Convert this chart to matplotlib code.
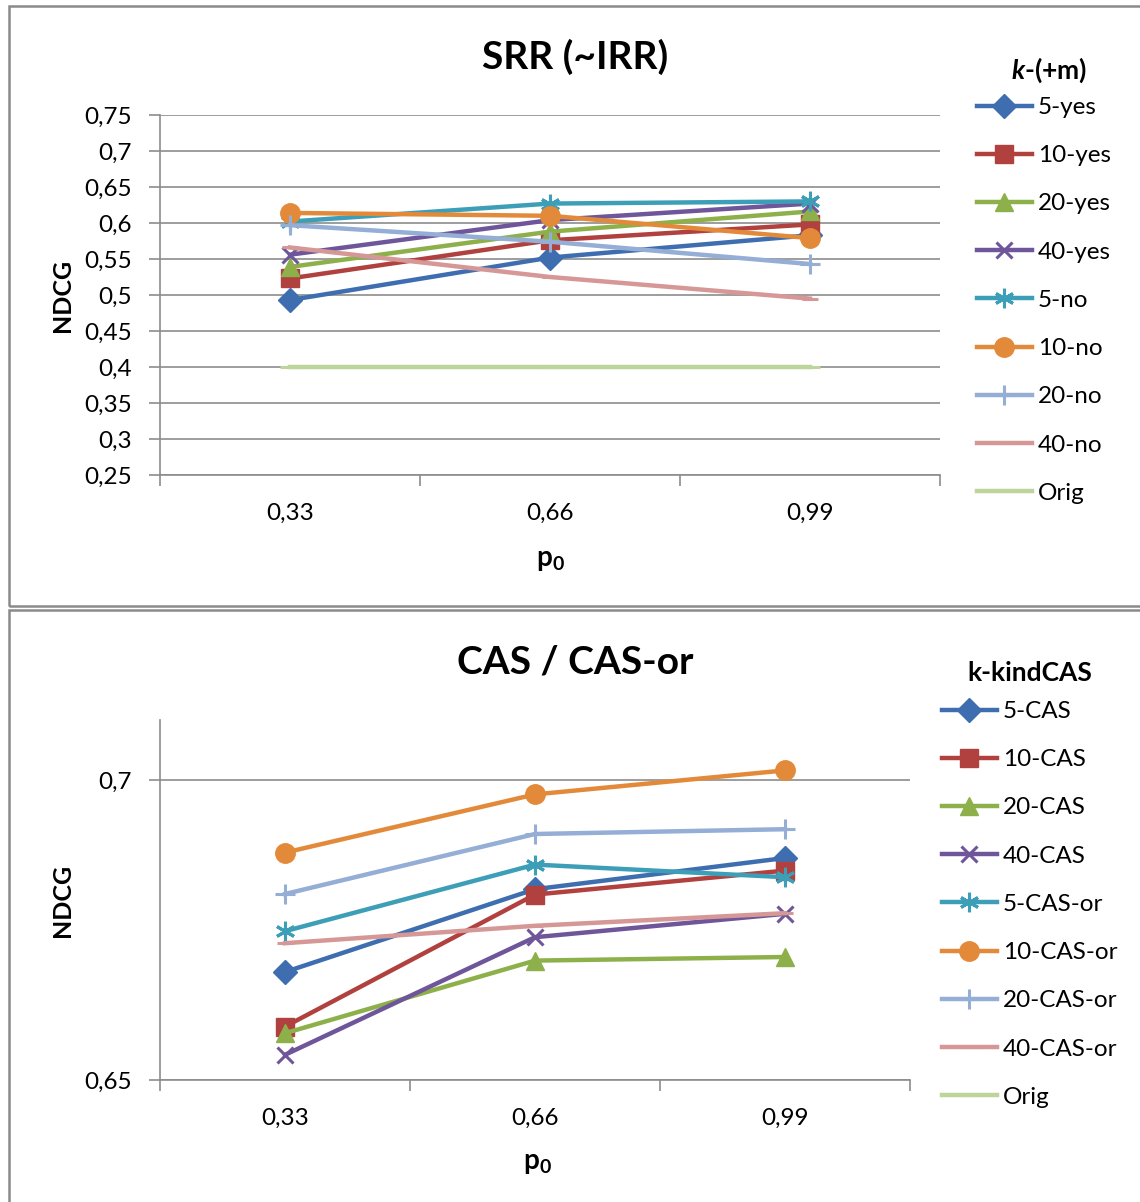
"""
NDCG vs p0 for SRR (~IRR) and CAS / CAS-or runs
"""

import matplotlib
matplotlib.use("Agg")
import matplotlib.pyplot as plt
from matplotlib.patches import Rectangle
from matplotlib.ticker import FixedLocator, FuncFormatter

plt.rcParams["font.family"] = ["Lato", "DejaVu Sans"]
plt.rcParams["mathtext.fontset"] = "custom"
plt.rcParams["mathtext.rm"] = "Lato"
plt.rcParams["mathtext.bf"] = "Lato:bold"
plt.rcParams["mathtext.bfit"] = "Lato:bold:italic"

# =====================================================
# DATA
# =====================================================
p0_labels = ["0,33", "0,66", "0,99"]

srr_names = ["5-yes", "10-yes", "20-yes", "40-yes", "5-no", "10-no", "20-no", "40-no", "Orig"]
srr_5_yes  = [0.493, 0.552, 0.583]
srr_10_yes = [0.523, 0.576, 0.598]
srr_20_yes = [0.539, 0.588, 0.616]
srr_40_yes = [0.556, 0.604, 0.627]
srr_5_no   = [0.602, 0.627, 0.630]
srr_10_no  = [0.614, 0.610, 0.579]
srr_20_no  = [0.597, 0.574, 0.543]
srr_40_no  = [0.566, 0.525, 0.495]
srr_orig   = [0.400, 0.400, 0.400]

cas_names = ["5-CAS", "10-CAS", "20-CAS", "40-CAS", "5-CAS-or", "10-CAS-or",
             "20-CAS-or", "40-CAS-or", "Orig"]
cas_5      = [0.6680, 0.6818, 0.6870]
cas_10     = [0.6589, 0.6809, 0.6849]
cas_20     = [0.6578, 0.6699, 0.6705]
cas_40     = [0.6542, 0.6738, 0.6777]
cas_5_or   = [0.6748, 0.6859, 0.6838]
cas_10_or  = [0.6879, 0.6976, 0.7016]
cas_20_or  = [0.6810, 0.6910, 0.6918]
cas_40_or  = [0.6728, 0.6757, 0.6778]
cas_orig   = [0.400, 0.400, 0.400]

# =====================================================
# STYLE
# =====================================================
COLORS = ["#3E6EB0", "#B0413E", "#8DB04B", "#6F559A", "#3D9EB8",
          "#E38A3A", "#94AED6", "#D69896", "#BDD59A"]
MARKERS = ["D", "s", "^", "x", (6, 2, 0), "o", "+", "_", "_"]
MSIZES = [12, 13, 13, 12, 14, 14, 15, 12, 15]
GRID = "#8C8C8C"
FS = 17.5

W, H = 1140, 1202
fig = plt.figure(figsize=(W / 100, H / 100), dpi=100)


def fx(px):
    return px / W


def fy(py):
    return 1 - py / H


# panel frames
for top, bot in [(6, 606), (610, 1215)]:
    fig.patches.append(Rectangle((fx(9), fy(bot)), fx(1150) - fx(9), fy(top) - fy(bot),
                                 transform=fig.transFigure, fill=False,
                                 edgecolor="#8A8A8A", linewidth=1.8))


def fmt(v, _):
    return f"{v:g}".replace(".", ",")


def draw_panel(rect, series, names, ylim, yticks, title, title_xy,
               ylab_y, xlab_xy, leg_xy, leg_title, leg_title_xy):
    ax = fig.add_axes(rect)
    x = range(len(p0_labels))
    for vals, name, c, m, ms in zip(series, names, COLORS, MARKERS, MSIZES):
        mew = 2.2 if m in ("x", "+", "_") or isinstance(m, tuple) else 1.0
        ax.plot(x, vals, color=c, linewidth=3.2, marker=m, markersize=ms,
                markeredgewidth=mew, markerfacecolor=c, markeredgecolor=c,
                label=name, clip_on=True)

    ax.set_xlim(-0.5, 2.5)
    ax.set_ylim(*ylim)
    ax.yaxis.set_major_locator(FixedLocator(yticks))
    ax.yaxis.set_major_formatter(FuncFormatter(fmt))
    ax.xaxis.set_major_locator(FixedLocator([-0.5, 0.5, 1.5, 2.5]))
    ax.xaxis.set_major_formatter(FuncFormatter(lambda v, _: ""))
    ax.xaxis.set_minor_locator(FixedLocator(list(x)))
    ax.set_xticklabels(p0_labels, minor=True)
    ax.tick_params(axis="x", which="minor", length=0, pad=20, labelsize=FS)
    ax.tick_params(axis="x", which="major", length=8, color=GRID, width=1.2)
    ax.tick_params(axis="y", length=8, color=GRID, width=1.2, pad=12, labelsize=FS)
    ax.grid(axis="y", color=GRID, linewidth=1.2)
    ax.set_axisbelow(True)
    for s in ("top", "right"):
        ax.spines[s].set_visible(False)
    for s in ("left", "bottom"):
        ax.spines[s].set_color(GRID)
        ax.spines[s].set_linewidth(1.2)

    fig.text(fx(title_xy[0]), fy(title_xy[1]), title, ha="center", va="center",
             fontsize=28, fontweight="bold")
    fig.text(fx(62), fy(ylab_y), "NDCG", ha="center", va="center", rotation=90,
             fontsize=18, fontweight="bold")
    fig.text(fx(xlab_xy[0]), fy(xlab_xy[1]), r"$\mathbf{p}_\mathbf{0}$",
             ha="center", va="center", fontsize=20)

    # legend title drawn separately so the entry rows can be placed exactly
    fig.text(fx(leg_title_xy[0]), fy(leg_title_xy[1]), leg_title, ha="center",
             va="center", fontsize=19, fontweight="bold")
    ax.legend(loc="upper left", bbox_to_anchor=(fx(leg_xy[0]), fy(leg_xy[1])),
              bbox_transform=fig.transFigure, frameon=False, fontsize=FS,
              handlelength=2.25, handletextpad=0.25, labelspacing=1.12,
              borderpad=0, borderaxespad=0, markerscale=1.0)
    return ax


draw_panel([fx(160), fy(475), fx(780), 360 / H],
           [srr_5_yes, srr_10_yes, srr_20_yes, srr_40_yes, srr_5_no,
            srr_10_no, srr_20_no, srr_40_no, srr_orig],
           srr_names, (0.25, 0.75), [0.25 + 0.05 * i for i in range(11)],
           "SRR (~IRR)", (575, 57), 295, (550, 560), (977, 97),
           r"$\mathbfit{k}$-(+m)", (1049, 70))

draw_panel([fx(160), fy(1080), fx(750), 360 / H],
           [cas_5, cas_10, cas_20, cas_40, cas_5_or, cas_10_or, cas_20_or,
            cas_40_or, cas_orig],
           cas_names, (0.65, 0.71), [0.65, 0.70],
           "CAS / CAS-or", (575, 662), 900, (537, 1163), (942, 701),
           "k-kindCAS", (1030, 673))

fig.savefig("out.png", dpi=100)
